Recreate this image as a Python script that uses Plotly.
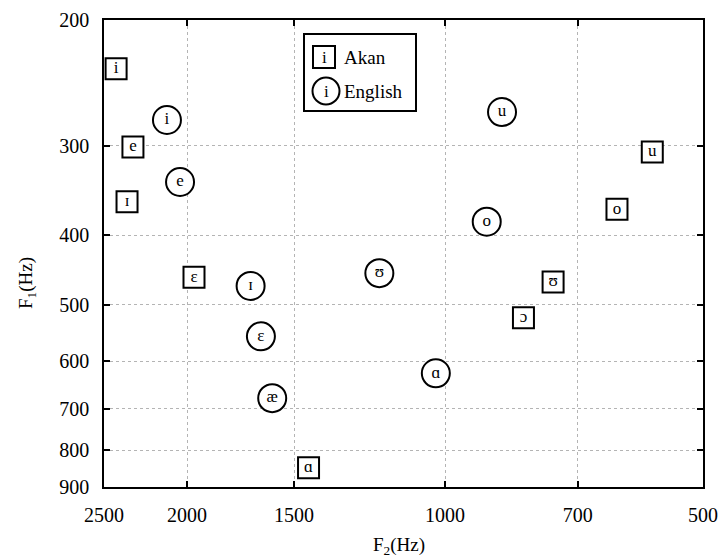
import plotly.graph_objects as go

# Akan vowels (squares)
akan_vowels = ["i", "e", "ɪ", "ɛ", "ɑ", "u", "o", "ʊ", "ɔ"]
akan_f2 = [2420, 2313, 2350, 1963, 1443, 573, 630, 748, 810]
akan_f1 = [234, 301, 359, 458, 846, 306, 368, 465, 522]

# English vowels (circles)
eng_vowels = ["i", "e", "ɪ", "ɛ", "æ", "ʊ", "u", "o", "ɑ"]
eng_f2 = [2111, 2038, 1686, 1640, 1591, 1193, 858, 894, 1025]
eng_f1 = [276, 337, 471, 554, 676, 452, 269, 383, 624]

x_ticks = [2500, 2000, 1500, 1000, 700, 500]
y_ticks = [200, 300, 400, 500, 600, 700, 800, 900]

FONT = "Liberation Serif, DejaVu Serif, Times New Roman, serif"

fig = go.Figure()
fig.add_trace(go.Scatter(
    x=akan_f2, y=akan_f1, text=akan_vowels, mode="markers+text",
    textposition="middle center", name="Akan",
    marker=dict(symbol="square", size=21, color="white",
                line=dict(color="black", width=2)),
    textfont=dict(family=FONT, size=17, color="black"),
    showlegend=False, cliponaxis=False,
))
fig.add_trace(go.Scatter(
    x=eng_f2, y=eng_f1, text=eng_vowels, mode="markers+text",
    textposition="middle center", name="English",
    marker=dict(symbol="circle", size=28, color="white",
                line=dict(color="black", width=2)),
    textfont=dict(family=FONT, size=17, color="black"),
    showlegend=False, cliponaxis=False,
))

W, H = 723, 558
L, R, T, B = 104, 20, 20, 71
pw, ph = W - L - R, H - T - B

def px(xp):
    return (xp - L) / pw

def py(yp):
    return (H - B - yp) / ph

axis_common = dict(
    showline=True, linecolor="black", linewidth=1.5, mirror="ticks",
    ticks="inside", ticklen=6, tickwidth=1.5, tickcolor="black",
    showgrid=True, gridcolor="#b4b4b4", gridwidth=1, griddash="dot",
    zeroline=False, automargin=False,
    tickfont=dict(family=FONT, size=20, color="black"),
    ticklabelstandoff=9,
)

fig.update_xaxes(type="log", range=[3.39794, 2.69897],
                 tickvals=x_ticks, ticktext=[str(v) for v in x_ticks],
                 **axis_common)
fig.update_yaxes(type="log", range=[2.95424, 2.30103],
                 tickvals=y_ticks, ticktext=[str(v) for v in y_ticks],
                 **axis_common)

shapes = []
# legend frame
shapes.append(dict(type="rect", xref="paper", yref="paper",
                   x0=px(304), x1=px(416), y0=py(111), y1=py(34),
                   line=dict(color="black", width=2), fillcolor="white",
                   layer="above"))
shapes.append(dict(type="rect", xref="paper", yref="paper",
                   xsizemode="pixel", ysizemode="pixel",
                   xanchor=px(324), yanchor=py(57),
                   x0=-11, x1=11, y0=-11, y1=11,
                   line=dict(color="black", width=2), layer="above"))
shapes.append(dict(type="circle", xref="paper", yref="paper",
                   xsizemode="pixel", ysizemode="pixel",
                   xanchor=px(326), yanchor=py(91),
                   x0=-13.5, x1=13.5, y0=-13.5, y1=13.5,
                   line=dict(color="black", width=2), layer="above"))

def ann(xp, yp, text, size, xanchor="center", angle=0):
    return dict(x=px(xp), y=py(yp), xref="paper", yref="paper", text=text,
                showarrow=False, xanchor=xanchor, yanchor="middle",
                textangle=angle,
                font=dict(family=FONT, size=size, color="black"))

annotations = [
    ann(324, 57, "i", 17),
    ann(326, 91, "i", 17),
    ann(342, 57, "Akan", 19, xanchor="left"),
    ann(342, 91, "English", 19, xanchor="left"),
    ann(399, 546, "F<sub>2</sub>(Hz)", 19),
    ann(27, 283, "F<sub>1</sub>(Hz)", 19, angle=-90),
]

fig.update_layout(
    width=W, height=H,
    margin=dict(l=L, r=R, t=T, b=B),
    paper_bgcolor="white", plot_bgcolor="white",
    shapes=shapes, annotations=annotations,
    showlegend=False,
)

fig.write_html("out.html")
